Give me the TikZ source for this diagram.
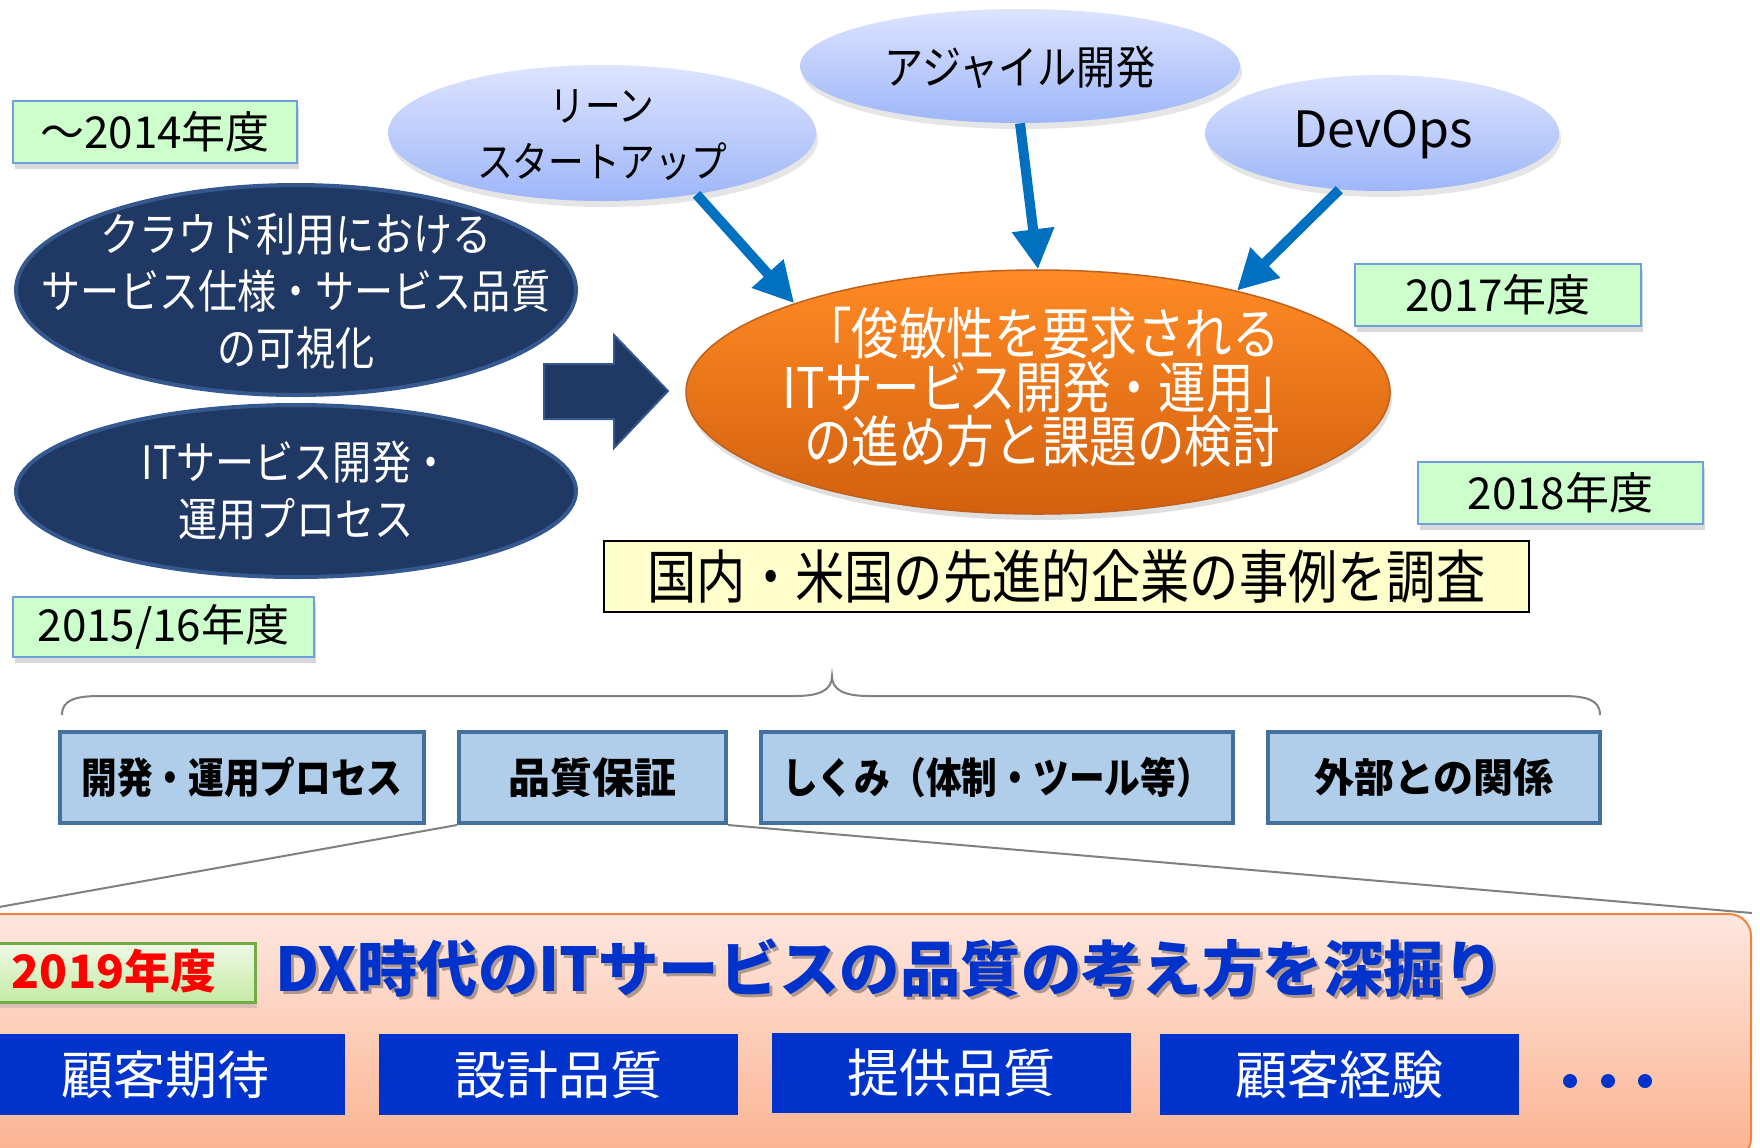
\documentclass[tikz,border=0pt]{standalone}
\usepackage{fontspec}
\newfontfamily\jp{Noto Sans CJK JP}
\newfontfamily\jpn[FakeStretch=0.85]{Noto Sans CJK JP}
\usetikzlibrary{shapes.geometric,arrows.meta,shadows}
\definecolor{gfill}{HTML}{CCFFCC}
\definecolor{gline}{HTML}{6FA0DC}
\definecolor{navy}{HTML}{1F3864}
\definecolor{navyline}{HTML}{35588F}
\definecolor{ltop}{HTML}{DCE4FE}
\definecolor{lbot}{HTML}{9EB6F9}
\definecolor{otop}{HTML}{FF8A25}
\definecolor{obot}{HTML}{D2600E}
\definecolor{oline}{HTML}{C0601A}
\definecolor{arrowblue}{HTML}{0070C0}
\definecolor{yfill}{HTML}{FFFFCC}
\definecolor{rowfill}{HTML}{B0CDE9}
\definecolor{rowline}{HTML}{41719C}
\definecolor{ptop}{HTML}{FEE7DF}
\definecolor{pbot}{HTML}{FBB28F}
\definecolor{pline}{HTML}{F0843C}
\definecolor{gtop}{HTML}{EFF9E6}
\definecolor{gbot}{HTML}{C4EBA3}
\definecolor{g19line}{HTML}{70AD47}
\definecolor{dxblue}{HTML}{0033CC}
\definecolor{braceg}{HTML}{808080}
\begin{document}
\begin{tikzpicture}[x=0.5pt,y=-0.5pt,
  gbox/.style={draw=gline, line width=1pt, fill=gfill, minimum height=30pt, inner sep=0pt,
    font=\jp\fontsize{22pt}{26pt}\selectfont,
    drop shadow={shadow xshift=1pt,shadow yshift=-3pt,opacity=0.3}},
  bubble/.style={ellipse, inner sep=0pt, top color=ltop, bottom color=lbot, draw=none,
    drop shadow={shadow xshift=1pt,shadow yshift=-3pt,opacity=0.2}},
  orangeell/.style={ellipse, inner sep=0pt, top color=otop, bottom color=obot, draw=oline, line width=0.75pt,
    drop shadow={shadow xshift=1pt,shadow yshift=-3pt,opacity=0.25}},
  navyell/.style={ellipse, inner sep=0pt, fill=navy, draw=navyline, line width=2pt},
  ltext/.style={align=center, inner sep=0pt},
  bluearrow/.style={draw=arrowblue, line width=5pt, -{Triangle[width=20pt,length=20pt]}},
  rowbox/.style={draw=rowline, line width=2pt, fill=rowfill, minimum height=45.5pt, inner sep=0pt},
  bluebox/.style={fill=dxblue, text=white, minimum height=40.5pt, inner sep=0pt,
    font=\jp\fontsize{26pt}{30pt}\selectfont},
  zoomline/.style={draw=braceg, line width=1pt},
  dot/.style={circle, fill=dxblue, minimum size=7pt, inner sep=0pt}
]
\useasboundingbox (0,0) rectangle (1760,1147);
\fill[white] (0,0) rectangle (1760,1147);
\clip (0,0) rectangle (1760,1147);

% year boxes
\node[gbox, minimum width=142pt, minimum height=31pt] (g14) at (155,132) {～2014年度};
\node[gbox, minimum width=150.5pt] (g15) at (163.5,627) {2015/16年度};
\node[gbox, minimum width=143pt, minimum height=31pt] (g17) at (1498,295) {2017年度};
\node[gbox, minimum width=142.5pt, minimum height=31pt] (g18) at (1560.5,493) {2018年度};

% top bubbles
\node[bubble, minimum width=214pt, minimum height=68pt] (lean) at (602,133) {};
\node[ltext, font=\jpn\fontsize{21pt}{28pt}\selectfont] (leantext) at (602,135) {リーン\\スタートアップ};
\node[bubble, minimum width=220pt, minimum height=57pt] (agile) at (1020,66) {};
\node[ltext, font=\jpn\fontsize{23pt}{28pt}\selectfont] (agiletext) at (1020,67) {アジャイル開発};
\node[bubble, minimum width=177pt, minimum height=58pt] (devops) at (1382,133) {};
\node[ltext, font=\jp\fontsize{25pt}{28pt}\selectfont] (devopstext) at (1383,135) {DevOps};

% central ellipse
\node[orangeell, minimum width=352pt, minimum height=122pt] (orange) at (1038,392) {};
\node[ltext, text=white, font=\jpn\fontsize{28pt}{27pt}\selectfont] (orangetext) at (1042,387)
  {「俊敏性を要求される\\ITサービス開発・運用」\\の進め方と課題の検討};

% left ellipses
\node[navyell, minimum width=280pt, minimum height=105pt] (navy1) at (296,290) {};
\node[ltext, text=white, font=\jpn\fontsize{23pt}{28.5pt}\selectfont] (navy1text) at (296,291)
  {クラウド利用における\\サービス仕様・サービス品質\\の可視化};
\node[navyell, minimum width=280pt, minimum height=86pt] (navy2) at (296,491) {};
\node[ltext, text=white, font=\jpn\fontsize{23pt}{28.5pt}\selectfont] (navy2text) at (296,491)
  {ITサービス開発・\\運用プロセス};

% block arrow
\fill[navy, draw=navyline, line width=1pt] (544,364) -- (614,364) -- (614,335) -- (668,391)
  -- (614,448) -- (614,419) -- (544,419) -- cycle;

% blue arrows
\draw[bluearrow] (lean.-33.7) -- (orange.160.9);
\draw[bluearrow] (agile.south) -- (orange.north);
\draw[bluearrow] (devops.233.6) -- (orange.27);

% survey box
\node[draw=black, line width=1pt, fill=yfill, minimum width=462.5pt, minimum height=35.5pt, inner sep=0pt,
  font=\jpn\fontsize{29pt}{32pt}\selectfont] (survey) at (1066.5,576.5) {国内・米国の先進的企業の事例を調査};

% brace
\draw[braceg, line width=1pt] (62,715) .. controls (62,700) and (75,696) .. (100,696) -- (795,696)
  .. controls (820,696) and (832,690) .. (832,676) .. controls (832,690) and (844,696) .. (869,696)
  -- (1562,696) .. controls (1587,696) and (1600,700) .. (1600,715);

% row boxes
\node[rowbox, minimum width=182pt, font=\jpn\bfseries\fontsize{21pt}{24pt}\selectfont] (b1) at (242,777.5) {開発・運用プロセス};
\node[rowbox, minimum width=133.5pt, font=\jp\bfseries\fontsize{21pt}{24pt}\selectfont] (b2) at (592.5,777.5) {品質保証};
\node[rowbox, minimum width=236pt, font=\jpn\bfseries\fontsize{21pt}{24pt}\selectfont] (b3) at (997,777.5) {しくみ（体制・ツール等）};
\node[rowbox, minimum width=166pt, font=\jp\bfseries\fontsize{20pt}{24pt}\selectfont] (b4) at (1434,777.5) {外部との関係};

% panel
\node[draw=pline, line width=1pt, top color=ptop, bottom color=pbot, rounded corners=11pt,
  minimum width=895.5pt, minimum height=123pt, inner sep=0pt] (panel) at (855.5,1037) {};
\coordinate (zl) at (-40,914);
\draw[zoomline] (b2.south west) -- (zl);
\draw[zoomline] (b2.south east) -- (panel.north east);

% 2019
\node[draw=g19line, line width=1.5pt, top color=gtop, bottom color=gbot, minimum width=140pt, minimum height=29.5pt,
  inner sep=0pt, drop shadow={shadow xshift=1pt,shadow yshift=-3pt,opacity=0.25}] (y19) at (115,972.5) {};
\node[ltext, text=red, font=\jp\bfseries\fontsize{23pt}{26pt}\selectfont] (y19text) at (114,971) {2019年度};

% title
\node[ltext, text=black, opacity=0.3, font=\jp\bfseries\fontsize{30.2pt}{36pt}\selectfont] (titleshadow) at (893,971)
  {DX時代のITサービスの品質の考え方を深掘り};
\node[ltext, text=dxblue, font=\jp\bfseries\fontsize{30.2pt}{36pt}\selectfont] (title) at (890,968)
  {DX時代のITサービスの品質の考え方を深掘り};

% blue boxes
\node[bluebox, minimum width=180pt] (c1) at (165,1074.5) {顧客期待};
\node[bluebox, minimum width=179.5pt] (c2) at (558.5,1074.5) {設計品質};
\node[bluebox, minimum width=179.5pt, minimum height=40pt] (c3) at (951.5,1073) {提供品質};
\node[bluebox, minimum width=179.5pt] (c4) at (1339.5,1074.5) {顧客経験};
\node[dot] (d1) at (1570,1081) {};
\node[dot] (d2) at (1608,1081) {};
\node[dot] (d3) at (1645,1081) {};
\end{tikzpicture}
\end{document}
